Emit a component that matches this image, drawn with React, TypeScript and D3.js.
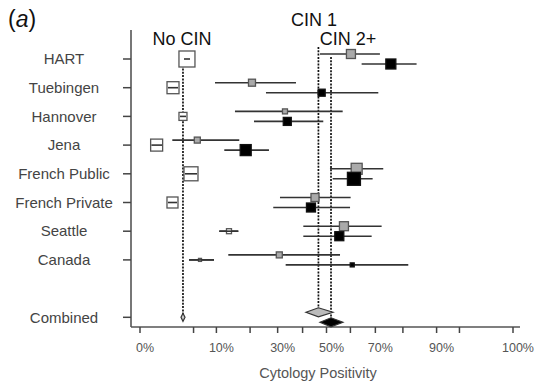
import * as d3 from 'd3'

const WIDTH = 536
const HEIGHT = 382
const FONT = 'Liberation Sans, Arial, sans-serif'

const studies = ['HART', 'Tuebingen', 'Hannover', 'Jena', 'French Public', 'French Private', 'Seattle', 'Canada']
const rows = [...studies, '', 'Combined']

// proportions (estimate, lower, upper) and box weights
const noCinEst = [0.0386, 0.0192, 0.0324, 0.0049, 0.0454, 0.0186, 0.134, 0.0625]
const noCinLo = [0.0339, 0.0138, 0.0281, 0.0023, 0.0355, 0.0138, 0.1074, 0.042]
const noCinHi = [0.0437, 0.0254, 0.0371, 0.0086, 0.0565, 0.0241, 0.1618, 0.094]
const noCinWeight = [16, 12, 8, 12, 14, 11, 5, 3]

const cin1Est = [0.6022, 0.2064, 0.3287, 0.0571, 0.6257, 0.4516, 0.5732, 0.3064]
const cin1Lo = [0.4725, 0.0965, 0.1516, 0.0184, 0.5146, 0.3091, 0.403, 0.132]
const cin1Hi = [0.7174, 0.3729, 0.5679, 0.1648, 0.73, 0.601, 0.7239, 0.5568]
const cin1Weight = [9, 7, 5, 6, 11, 8, 9, 6]

const cin2Est = [0.7579, 0.4797, 0.3378, 0.1854, 0.6145, 0.4348, 0.5538, 0.6075]
const cin2Lo = [0.6458, 0.256, 0.2133, 0.1208, 0.526, 0.2832, 0.403, 0.3314]
const cin2Hi = [0.844, 0.7113, 0.4864, 0.2671, 0.6894, 0.5985, 0.6856, 0.8178]
const cin2Weight = [10, 7, 8, 11, 13, 9, 9, 4]

// pooled: estimate, lower, upper
const combinedNoCin = [0.0324, 0.0295, 0.0355]
const combinedCin1 = [0.466, 0.414, 0.527]
const combinedCin2 = [0.519, 0.4725, 0.569]

const tickValues = [0, 0.05, 0.1, 0.2, 0.3, 0.4, 0.5, 0.6, 0.7, 0.8, 0.9, 0.95, 1]
const tickLabels = [0, 0.1, 0.3, 0.5, 0.7, 0.9, 1]

const PLOT = {left: 131, right: 520, top: 30, bottom: 327}

// arcsine square-root scale for proportions
const asinScale = d3.scaleLinear().domain([0, Math.PI / 2]).range([140, 513])
const xScale = (p: number) => asinScale(Math.asin(Math.sqrt(p)))

const yScale = d3.scalePoint<string>().domain(rows.map((r, i) => r + i)).range([59, 317.3])
const rowY = (i: number) => yScale(rows[i] + i) as number

const boxSize = d3.scaleLinear().domain([0, 16]).range([0, 16])

type Series = {
  est: number[]
  lo: number[]
  hi: number[]
  weight: number[]
  offset: number
  fill: string
  stroke: string
  combined: number[]
}

const series: Series[] = [
  {est: noCinEst, lo: noCinLo, hi: noCinHi, weight: noCinWeight, offset: 0, fill: '#fff', stroke: '#555', combined: combinedNoCin},
  {est: cin1Est, lo: cin1Lo, hi: cin1Hi, weight: cin1Weight, offset: -5, fill: '#aaa', stroke: '#555', combined: combinedCin1},
  {est: cin2Est, lo: cin2Lo, hi: cin2Hi, weight: cin2Weight, offset: 5, fill: '#000', stroke: '#111', combined: combinedCin2},
]

const Forest = () => {
  const combY = rowY(9)

  const refLines = series.map((s, k) => (
    <line
      key={k}
      x1={xScale(s.combined[0])}
      x2={xScale(s.combined[0])}
      y1={rowY(0) + s.offset - 7}
      y2={combY + s.offset - 3}
      stroke="#111"
      strokeWidth={1.7}
      strokeDasharray="2,1.3"
    />
  ))

  const marks = series.map((s, k) => (
    <g key={k}>
      {s.est.map((e, i) => {
        const y = rowY(i) + s.offset
        const size = boxSize(s.weight[i])
        return (
          <g key={i}>
            <line x1={xScale(s.lo[i])} x2={xScale(s.hi[i])} y1={y} y2={y} stroke="#333" strokeWidth={1.6} />
            <rect
              x={xScale(e) - size / 2}
              y={y - size / 2}
              width={size}
              height={size}
              fill={s.fill}
              stroke={s.stroke}
              strokeWidth={1.3}
            />
            {k === 0 && (
              <line x1={xScale(s.lo[i])} x2={xScale(s.hi[i])} y1={y} y2={y} stroke="#333" strokeWidth={1.6} />
            )}
          </g>
        )
      })}
      {(() => {
        const y = combY + s.offset
        const h = k === 0 ? 4 : 4.5
        const [e, lo, hi] = s.combined
        const pts = [
          [xScale(lo), y],
          [xScale(e), y - h],
          [xScale(hi), y],
          [xScale(e), y + h],
        ]
        return (
          <path
            d={d3.line()(pts as [number, number][]) + 'Z'}
            fill={k === 0 ? '#ccc' : s.fill === '#aaa' ? '#bbb' : s.fill}
            stroke="#333"
            strokeWidth={1.2}
          />
        )
      })()}
    </g>
  ))

  return (
    <svg width={WIDTH} height={HEIGHT} style={{position: 'absolute', left: 0, top: 0}} fontFamily={FONT}>
      <rect width={WIDTH} height={HEIGHT} fill="#fff" />
      <text x={8} y={27} fontSize={23} fill="#111">
        (<tspan fontStyle="italic">a</tspan>)
      </text>

      {/* axes */}
      <line x1={PLOT.left} x2={PLOT.left} y1={PLOT.top} y2={PLOT.bottom} stroke="#555" strokeWidth={1.6} />
      <line x1={PLOT.left} x2={PLOT.right} y1={PLOT.bottom} y2={PLOT.bottom} stroke="#555" strokeWidth={1.6} />
      {tickValues.map((t, i) => (
        <line key={i} x1={xScale(t)} x2={xScale(t)} y1={PLOT.bottom} y2={PLOT.bottom + 6} stroke="#444" strokeWidth={1.5} />
      ))}
      {tickLabels.map((t, i) => (
        <text key={i} x={xScale(t) + 5} y={351.5} textAnchor="middle" fontSize={12.5} fill="#555">
          {d3.format('.0%')(t)}
        </text>
      ))}
      <text x={318} y={378} textAnchor="middle" fontSize={14.5} fill="#555">
        Cytology Positivity
      </text>

      {rows.map((r, i) =>
        r ? (
          <g key={i}>
            <line x1={PLOT.left - 8} x2={PLOT.left} y1={rowY(i)} y2={rowY(i)} stroke="#444" strokeWidth={1.5} />
            <text x={64} y={rowY(i)} dy="0.35em" textAnchor="middle" fontSize={15} fill="#444">
              {r}
            </text>
          </g>
        ) : null
      )}

      {/* group headers */}
      <text x={182} y={45} textAnchor="middle" fontSize={18} fill="#111">No CIN</text>
      <text x={314} y={26} textAnchor="middle" fontSize={18} fill="#111">CIN 1</text>
      <text x={348} y={45} textAnchor="middle" fontSize={18} fill="#111">CIN 2+</text>

      {refLines}
      {marks}
    </svg>
  )
}

export default function App() {
  return <Forest />
}
